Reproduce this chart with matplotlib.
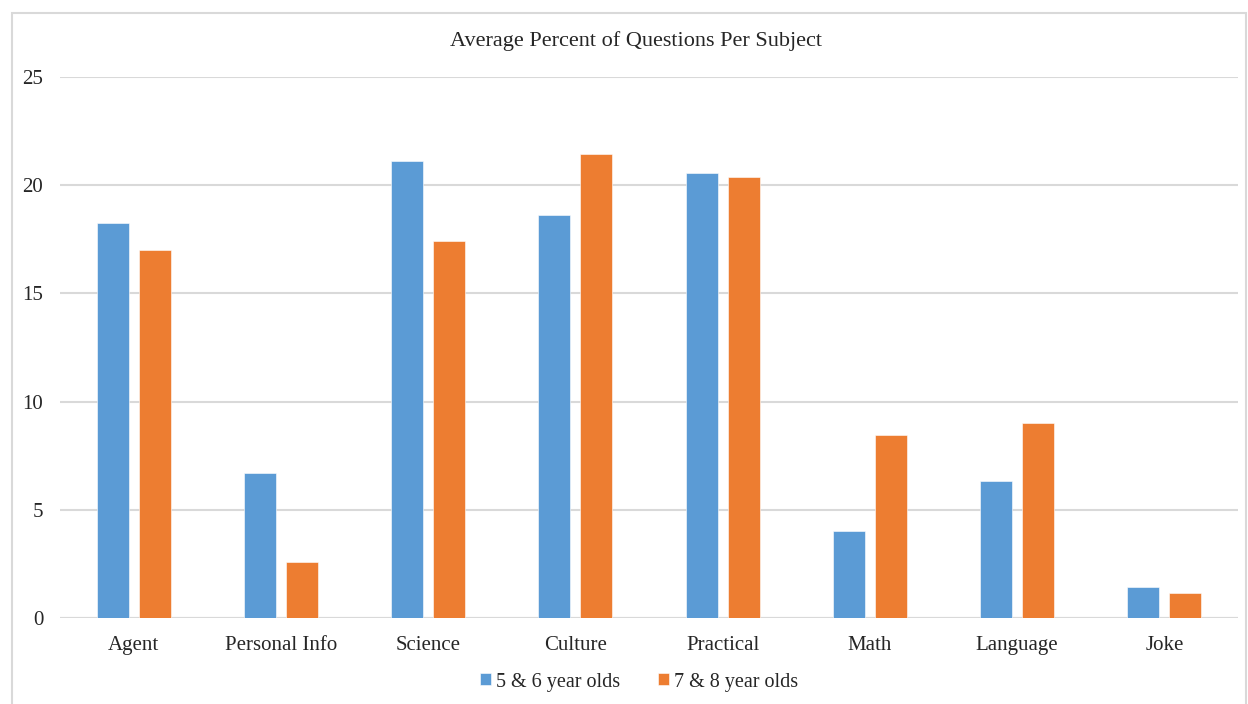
import matplotlib.pyplot as plt
import matplotlib.patches as mpatches
import numpy as np

plt.rcParams['font.family'] = ['Liberation Serif', 'DejaVu Serif']

subjects = ['Agent', 'Personal Info', 'Science', 'Culture', 'Practical', 'Math', 'Language', 'Joke']
age_5_6 = [18.27, 6.69, 21.13, 18.64, 20.58, 4.0, 6.33, 1.42]
age_7_8 = [16.99, 2.6, 17.44, 21.43, 20.4, 8.46, 9.0, 1.14]
series_names = ['5 & 6 year olds', '7 & 8 year olds']

blue = '#5B9BD5'
orange = '#ED7D31'
grid_c = '#D9D9D9'

W, H = 1248, 704
fig = plt.figure(figsize=(W / 100, H / 100), dpi=100)
ax = fig.add_axes([60 / W, 1 - 618 / H, (1238 - 60) / W, (618 - 77) / H])

x = np.arange(len(subjects))
bw = 0.217
off = (bw + 0.068) / 2
ax.bar(x - off, age_5_6, bw, color=blue, edgecolor='white', linewidth=0.4,
       label=series_names[0], zorder=3)
ax.bar(x + off, age_7_8, bw, color=orange, edgecolor='white', linewidth=0.4,
       label=series_names[1], zorder=3)

ax.set_xlim(-0.5, len(subjects) - 0.5)
ax.set_ylim(0, 25)
ax.set_yticks(range(0, 26, 5))
ax.yaxis.grid(True, color=grid_c, linewidth=1.5, zorder=0)
ax.set_axisbelow(True)
for s in ax.spines.values():
    s.set_visible(False)
ax.axhline(0, color=grid_c, linewidth=1.5, zorder=2)

ax.set_xticks(x)
ax.set_xticklabels(subjects, fontsize=15, color='#262626')
ax.tick_params(axis='both', length=0, labelsize=15, colors='#262626')
ax.tick_params(axis='x', pad=13)
ax.tick_params(axis='y', pad=12)

fig.text(636 / W, 1 - 41 / H, 'Average Percent of Questions Per Subject',
         ha='center', va='center', fontsize=16, color='#262626')

leg = fig.legend(loc='center', bbox_to_anchor=(639 / W, 1 - 682 / H), ncol=2,
                 frameon=False, fontsize=14.5, handlelength=0.55, handleheight=0.55,
                 handletextpad=0.25, columnspacing=1.9)
for t in leg.get_texts():
    t.set_color('#262626')

# chart frame
fig.patches.append(mpatches.Rectangle((12 / W, -0.01), (1246 - 12) / W, 1.01 - 13 / H,
                                      transform=fig.transFigure, fill=False,
                                      edgecolor='#D9D9D9', linewidth=1.5))

fig.savefig('out.png', dpi=100)
